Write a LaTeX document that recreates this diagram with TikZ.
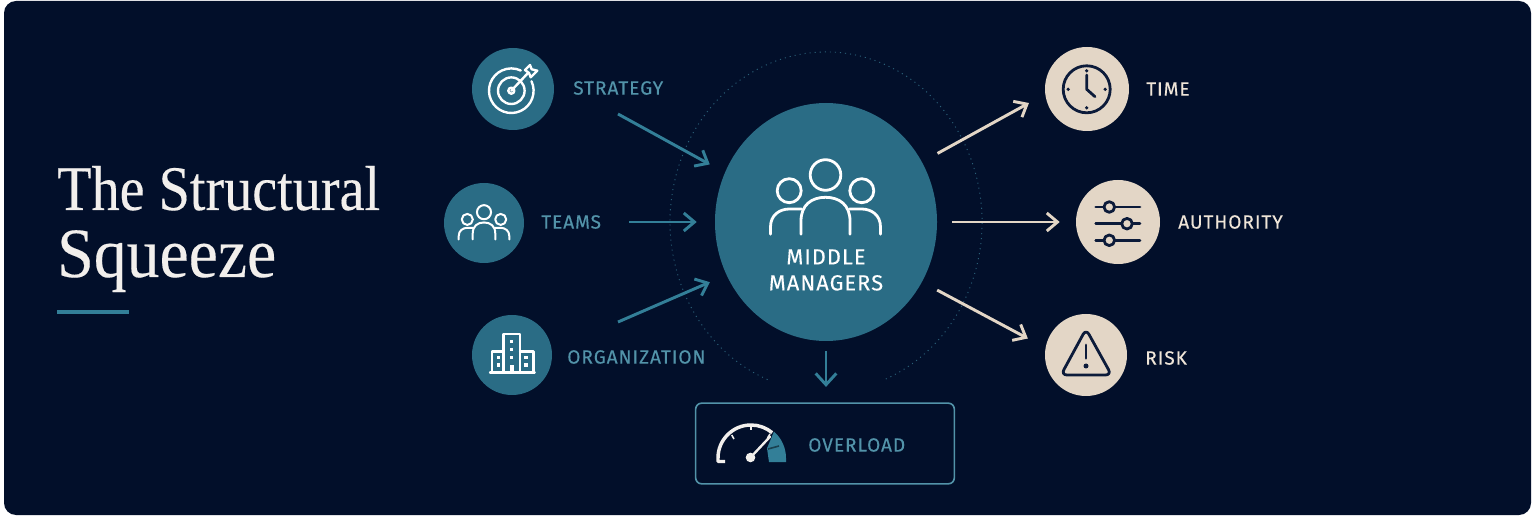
\documentclass[tikz,border=0pt]{standalone}
\usepackage{fontspec}
\usetikzlibrary{arrows.meta,shapes.geometric}
\newfontfamily\capfont[LetterSpace=5,FakeBold=0.25]{Fira Sans}
\newfontfamily\titlefont[FakeStretch=0.885,FakeBold=0.25]{Liberation Serif}
\newfontfamily\titlewide[FakeStretch=0.93,FakeBold=0.25]{Liberation Serif}
\definecolor{panelnavy}{HTML}{020F2A}
\definecolor{iconnavy}{HTML}{0C1B3A}
\definecolor{discteal}{HTML}{2A6C85}
\definecolor{arrowteal}{HTML}{337F98}
\definecolor{capteal}{HTML}{5293A9}
\definecolor{ringteal}{HTML}{2A5F78}
\definecolor{disccream}{HTML}{E3D6C6}
\definecolor{capcream}{HTML}{EFE5D8}
\definecolor{titlewhite}{HTML}{F2EFEC}
\tikzset{
  tealdisc/.style={circle,fill=discteal,inner sep=0pt},
  creamdisc/.style={circle,fill=disccream,inner sep=0pt},
  tealcap/.style={anchor=west,inner sep=0pt,text=capteal,font=\capfont\fontsize{14.3}{16}\selectfont},
  creamcap/.style={anchor=west,inner sep=0pt,text=capcream,font=\capfont\fontsize{14.3}{16}\selectfont},
  titletext/.style={anchor=base west,inner sep=0pt,text=titlewhite},
  inarrow/.style={draw=arrowteal,line width=2.2pt,-{Straight Barb[length=8pt,width=13.5pt,line width=2.2pt]}},
  outarrow/.style={draw=disccream,line width=2.2pt,-{Straight Barb[length=8pt,width=13.5pt,line width=2.2pt]}},
  whiteline/.style={draw=white,line width=1.8pt,line cap=round,line join=round},
  navyline/.style={draw=iconnavy,line width=2.1pt,line cap=round,line join=round},
}
\newcommand{\peopleicon}{%
  \draw (0,-30) circle[radius=15.3];
  \draw (-36.3,-14.3) circle[radius=12];
  \draw (36.3,-14.3) circle[radius=12];
  \draw (-24.5,29.3) -- (-24.5,16) .. controls (-24.5,0) and (-14,-7.7) .. (0,-7.7) .. controls (14,-7.7) and (24.5,0) .. (24.5,16) -- (24.5,29.3);
  \draw (-55,29.3) -- (-55,22) .. controls (-55,10) and (-46,4) .. (-36,4) -- (-24,4);
  \draw (55,29.3) -- (55,22) .. controls (55,10) and (46,4) .. (36,4) -- (24,4);
}
\begin{document}
\begin{tikzpicture}[x=0.75pt,y=0.75pt,yscale=-1,xscale=1]
\useasboundingbox (0,0) rectangle (1536,520);
\fill[white] (0,0) rectangle (1536,520);
\fill[panelnavy,rounded corners=9pt] (4,1) rectangle (1531,515);

% Title
\node (titletop) [titletext,font=\titlefont\fontsize{47.6}{50}\selectfont] at (57,210) {The Structural};
\node (titlebot) [titletext,font=\titlewide\fontsize{53}{56}\selectfont] at (57,277) {Squeeze};
\draw [arrowteal,line width=2.6pt] (57,312) -- (129,312);

% Dotted ring
\draw [ringteal,line width=0.7pt,dash pattern={on 0.8pt off 3pt}] (767.6,379.6) arc[start angle=112,end angle=428,x radius=156,y radius=170];

% Discs
\node (mgr) [ellipse,fill=discteal,inner sep=0pt,minimum width=166.5pt,minimum height=178.5pt] at (826,222) {};
\node (strategy) [tealdisc,minimum size=61.5pt] at (513,89) {};
\node (teams) [tealdisc,minimum size=60pt] at (484,223) {};
\node (org) [tealdisc,minimum size=60pt] at (512,355) {};
\node (time) [creamdisc,minimum size=63pt] at (1087,89) {};
\node (authority) [creamdisc,minimum size=63pt] at (1118,222) {};
\node (risk) [creamdisc,minimum size=61.5pt] at (1086,355) {};
\node (overload) [draw=capteal,line width=1.2pt,rounded corners=4.5pt,inner sep=0pt,minimum width=194pt,minimum height=60.5pt] at (825,443.5) {};

% Labels
\node (stratlab) [tealcap] at (573,88) {STRATEGY};
\node (teamslab) [tealcap] at (541,222) {TEAMS};
\node (orglab) [tealcap] at (567,357) {ORGANIZATION};
\node (timelab) [creamcap] at (1146,89) {TIME};
\node (authlab) [creamcap] at (1178,222) {AUTHORITY};
\node (risklab) [creamcap] at (1145,358) {RISK};
\node (overlab) [tealcap] at (808,445) {OVERLOAD};
\node (mgrlab) [inner sep=0pt,align=center,text=white,font=\capfont\fontsize{16.3}{19.5}\selectfont] at (826,270) {MIDDLE\\MANAGERS};

% Arrows in
\coordinate (stratout) at (618,114);
\coordinate (orgout) at (618,322);
\draw [inarrow,shorten >=12.8pt] (stratout) -- (mgr.154);
\draw [inarrow,shorten <=21pt,shorten >=13.5pt] (teamslab.east) -- (mgr.west);
\draw [inarrow,shorten >=13.5pt] (orgout) -- (mgr.208);
% Arrows out
\draw [outarrow,shorten <=13.2pt,shorten >=13.8pt] (mgr.32) -- (time.187);
\draw [outarrow,shorten <=11.25pt,shorten >=12pt] (mgr.east) -- (authority.west);
\draw [outarrow,shorten <=12.8pt,shorten >=14.9pt] (mgr.-32) -- (risk.170);
\draw [inarrow,shorten <=7.5pt,shorten >=11.6pt,-{Straight Barb[length=8.5pt,width=15.5pt,line width=2.2pt]}] (mgr.south) -- (mgr.south |- overload.north);

% People icons
\begin{scope}[shift={(825.5,205)},every path/.append style={whiteline,line width=2.1pt}]
\peopleicon
\end{scope}
\begin{scope}[shift={(484,226)},scale=0.46,every path/.append style={whiteline,line width=1.5pt}]
\peopleicon
\end{scope}

% Target
\draw [whiteline] (511.3,90.7) ++(-25:22.3) arc[start angle=-25,end angle=295,radius=22.3];
\draw [whiteline] (511.3,90.7) circle[radius=13.3];
\draw [whiteline] (511.3,90.7) circle[radius=3];
\draw [whiteline] (511.3,90.7) -- (528,73);
\draw [whiteline] (525,70) -- (530,65) -- (531.7,69.3) -- (537.3,70.7) -- (530.7,77.3) -- (529,73) -- cycle;

% Building
\draw [whiteline] (491.7,372.7) -- (491.7,351.7) -- (503.3,351.7);
\draw [whiteline] (503.3,372.7) -- (503.3,334.3) -- (520,334.3) -- (520,372.7);
\draw [whiteline] (520,351.7) -- (533.3,351.7) -- (533.3,372.7);
\draw [whiteline] (490,372.7) -- (534.7,372.7);
\fill [white] (510,365) rectangle (514.3,372.7);
\foreach \wy in {341.7,349.3,357.3}
  \fill [white] (510,\wy-1.7) rectangle (513.4,\wy+1.7);
\foreach \wx in {498.3,526}
  \foreach \wy in {357.7,365}
    \fill [white] (\wx-1.7,\wy-1.7) rectangle (\wx+1.7,\wy+1.7);

% Clock
\draw [navyline] (1086.7,89.3) circle[radius=23.5];
\draw [navyline] (1086.7,75) -- (1086.7,89.3) -- (1095,96.7);
\foreach \tickx/\ticky in {0/-18.5,18.5/0,0/18.5,-18.5/0}
  \fill [iconnavy] (1086.7+\tickx,89.3+\ticky) circle[radius=1.8];

% Sliders
\foreach \sy/\kx in {207/1109.3,223.7/1127,240.3/1109.3} {
  \draw [navyline] (1095.7,\sy) -- (1140,\sy);
  \draw [navyline,fill=disccream] (\kx,\sy) circle[radius=5.3];
}

% Warning
\draw [navyline,rounded corners=4.5pt] (1086,329) -- (1111.5,375) -- (1061,375) -- cycle;
\draw [navyline] (1086,345) -- (1086,358.3);
\fill [iconnavy] (1086,366) circle[radius=2.5];

% Gauge
\fill [arrowteal] (786,462) -- (786,458) arc[start angle=360,end angle=311,radius=35] -- (767,448.3) -- (769,462) -- cycle;
\draw [discteal!60!black,line width=1.2pt] (768,449) -- (779,446);
\draw [draw=titlewhite,line width=2.6pt,line join=round] (725,461.5) -- (718,461.5) -- (718,458) arc[start angle=180,end angle=310,radius=33];
\draw [draw=titlewhite,line width=1.2pt] (731.7,435) -- (734,439);
\draw [draw=titlewhite,line width=1.2pt] (750.7,425) -- (750.7,430);
\draw [draw=titlewhite,line width=1.2pt] (770,434) -- (767.5,438);
\draw [draw=titlewhite,line width=1.8pt,line cap=round] (750.5,457.5) -- (770,436.7);
\fill [titlewhite] (750.5,457.5) circle[radius=4.8];

\end{tikzpicture}
\end{document}
